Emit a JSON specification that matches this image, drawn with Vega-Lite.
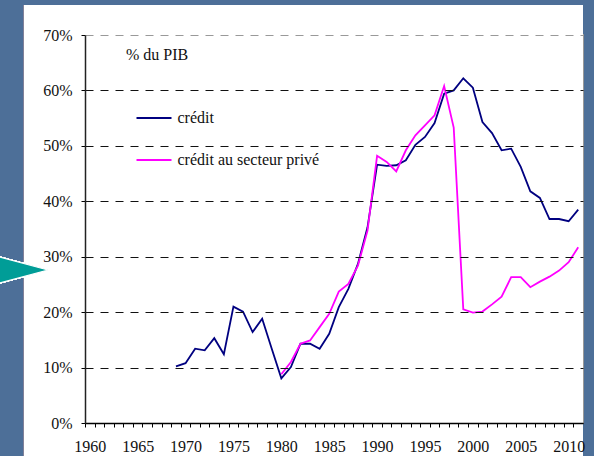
{
  "$schema": "https://vega.github.io/schema/vega-lite/v6.json",
  "autosize": "none",
  "width": 498,
  "height": 388,
  "padding": {"left": 85, "top": 35, "right": 11, "bottom": 33},
  "background": "#4d6f98",
  "config": {
    "font": "'Liberation Serif', 'Times New Roman', Times, serif",
    "view": {"stroke": "#999999", "strokeWidth": 2}
  },
  "title": {
    "text": "% du PIB",
    "anchor": "start",
    "frame": "group",
    "orient": "top",
    "offset": 0,
    "baseline": "middle",
    "dx": 41,
    "dy": 66,
    "fontSize": 16,
    "fontWeight": "normal",
    "color": "#111111",
    "font": "'Liberation Serif', 'Times New Roman', Times, serif"
  },
  "resolve": {"axis": {"x": "independent", "y": "independent"}},
  "data": {
    "values": [
      {"year": 1969, "series": "crédit", "value": 10.2},
      {"year": 1970, "series": "crédit", "value": 10.8},
      {"year": 1971, "series": "crédit", "value": 13.4},
      {"year": 1972, "series": "crédit", "value": 13.1},
      {"year": 1973, "series": "crédit", "value": 15.3},
      {"year": 1974, "series": "crédit", "value": 12.4},
      {"year": 1975, "series": "crédit", "value": 21.0},
      {"year": 1976, "series": "crédit", "value": 20.1},
      {"year": 1977, "series": "crédit", "value": 16.4},
      {"year": 1978, "series": "crédit", "value": 18.8},
      {"year": 1979, "series": "crédit", "value": 13.4},
      {"year": 1980, "series": "crédit", "value": 8.05},
      {"year": 1981, "series": "crédit", "value": 10.1},
      {"year": 1982, "series": "crédit", "value": 14.3},
      {"year": 1983, "series": "crédit", "value": 14.3},
      {"year": 1984, "series": "crédit", "value": 13.4},
      {"year": 1985, "series": "crédit", "value": 16.1},
      {"year": 1986, "series": "crédit", "value": 20.9},
      {"year": 1987, "series": "crédit", "value": 24.2},
      {"year": 1988, "series": "crédit", "value": 28.7},
      {"year": 1989, "series": "crédit", "value": 35.3},
      {"year": 1990, "series": "crédit", "value": 46.6},
      {"year": 1991, "series": "crédit", "value": 46.4},
      {"year": 1992, "series": "crédit", "value": 46.5},
      {"year": 1993, "series": "crédit", "value": 47.4},
      {"year": 1994, "series": "crédit", "value": 50.2},
      {"year": 1995, "series": "crédit", "value": 51.6},
      {"year": 1996, "series": "crédit", "value": 54.1},
      {"year": 1997, "series": "crédit", "value": 59.4},
      {"year": 1998, "series": "crédit", "value": 60.0},
      {"year": 1999, "series": "crédit", "value": 62.2},
      {"year": 2000, "series": "crédit", "value": 60.5},
      {"year": 2001, "series": "crédit", "value": 54.3},
      {"year": 2002, "series": "crédit", "value": 52.3},
      {"year": 2003, "series": "crédit", "value": 49.2},
      {"year": 2004, "series": "crédit", "value": 49.5},
      {"year": 2005, "series": "crédit", "value": 46.2},
      {"year": 2006, "series": "crédit", "value": 41.8},
      {"year": 2007, "series": "crédit", "value": 40.6},
      {"year": 2008, "series": "crédit", "value": 36.8},
      {"year": 2009, "series": "crédit", "value": 36.8},
      {"year": 2010, "series": "crédit", "value": 36.4},
      {"year": 2011, "series": "crédit", "value": 38.5},
      {"year": 1980, "series": "crédit au secteur privé", "value": 8.8},
      {"year": 1981, "series": "crédit au secteur privé", "value": 11.0},
      {"year": 1982, "series": "crédit au secteur privé", "value": 14.3},
      {"year": 1983, "series": "crédit au secteur privé", "value": 14.9},
      {"year": 1984, "series": "crédit au secteur privé", "value": 17.3},
      {"year": 1985, "series": "crédit au secteur privé", "value": 19.7},
      {"year": 1986, "series": "crédit au secteur privé", "value": 23.7},
      {"year": 1987, "series": "crédit au secteur privé", "value": 25.1},
      {"year": 1988, "series": "crédit au secteur privé", "value": 28.4},
      {"year": 1989, "series": "crédit au secteur privé", "value": 34.7},
      {"year": 1990, "series": "crédit au secteur privé", "value": 48.2},
      {"year": 1991, "series": "crédit au secteur privé", "value": 47.1},
      {"year": 1992, "series": "crédit au secteur privé", "value": 45.4},
      {"year": 1993, "series": "crédit au secteur privé", "value": 49.2},
      {"year": 1994, "series": "crédit au secteur privé", "value": 51.9},
      {"year": 1995, "series": "crédit au secteur privé", "value": 53.7},
      {"year": 1996, "series": "crédit au secteur privé", "value": 55.5},
      {"year": 1997, "series": "crédit au secteur privé", "value": 60.8},
      {"year": 1998, "series": "crédit au secteur privé", "value": 53.3},
      {"year": 1999, "series": "crédit au secteur privé", "value": 20.5},
      {"year": 2000, "series": "crédit au secteur privé", "value": 19.9},
      {"year": 2001, "series": "crédit au secteur privé", "value": 20.1},
      {"year": 2002, "series": "crédit au secteur privé", "value": 21.4},
      {"year": 2003, "series": "crédit au secteur privé", "value": 22.8},
      {"year": 2004, "series": "crédit au secteur privé", "value": 26.3},
      {"year": 2005, "series": "crédit au secteur privé", "value": 26.3},
      {"year": 2006, "series": "crédit au secteur privé", "value": 24.5},
      {"year": 2007, "series": "crédit au secteur privé", "value": 25.5},
      {"year": 2008, "series": "crédit au secteur privé", "value": 26.4},
      {"year": 2009, "series": "crédit au secteur privé", "value": 27.5},
      {"year": 2010, "series": "crédit au secteur privé", "value": 29.0},
      {"year": 2011, "series": "crédit au secteur privé", "value": 31.7}
    ]
  },
  "layer": [
    {
      "mark": {"type": "rect", "color": "#ffffff", "clip": false},
      "encoding": {
        "x": {"datum": 1953.13, "type": "quantitative", "axis": null},
        "x2": {"datum": 2011.5},
        "y": {"datum": 75.41, "type": "quantitative", "axis": null},
        "y2": {"datum": -8.5}
      }
    },
    {
      "mark": {
        "type": "point",
        "shape": "M1,0L-1,-0.54L-1,0.54Z",
        "filled": true,
        "fill": "#009d97",
        "stroke": "#ffffff",
        "strokeWidth": 1.2,
        "opacity": 1,
        "size": 3364,
        "clip": false
      },
      "encoding": {
        "x": {"datum": 1952.61, "type": "quantitative", "axis": null},
        "y": {"datum": 27.6, "type": "quantitative", "axis": null}
      }
    },
    {
      "mark": {"type": "line", "strokeWidth": 1.8, "clip": true},
      "encoding": {
        "x": {
          "field": "year",
          "type": "quantitative",
          "scale": {"domain": [1959.5, 2011.5], "nice": false, "zero": false},
          "axis": {
            "title": null,
            "values": [1960,1961,1962,1963,1964,1965,1966,1967,1968,1969,1970,1971,1972,1973,1974,1975,1976,1977,1978,1979,1980,1981,1982,1983,1984,1985,1986,1987,1988,1989,1990,1991,1992,1993,1994,1995,1996,1997,1998,1999,2000,2001,2002,2003,2004,2005,2006,2007,2008,2009,2010,2011,2012],
            "labelExpr": "datum.value % 5 === 0 && datum.value <= 2010 ? '' + datum.value : ''",
            "tickOffset": -4.79,
            "labelOffset": 4.79,
            "ticks": true,
            "tickSize": 4,
            "tickColor": "#000000",
            "tickWidth": 1,
            "domainColor": "#000000",
            "domainWidth": 1.5,
            "labelFontSize": 16,
            "labelFont": "'Liberation Serif', 'Times New Roman', Times, serif",
            "labelColor": "#111111",
            "labelPadding": 11,
            "labelOverlap": false,
            "labelFlush": false,
            "labelBound": false,
            "grid": false,
            "zindex": 1
          }
        },
        "y": {
          "field": "value",
          "type": "quantitative",
          "scale": {"domain": [0, 70], "nice": false},
          "axis": {
            "title": null,
            "values": [0, 10, 20, 30, 40, 50, 60, 70],
            "labelExpr": "datum.value + '%'",
            "tickSize": 4,
            "tickColor": "#000000",
            "domainColor": "#222222",
            "domainWidth": 1.5,
            "labelFontSize": 16,
            "labelFont": "'Liberation Serif', 'Times New Roman', Times, serif",
            "labelColor": "#111111",
            "labelPadding": 9,
            "grid": true,
            "gridColor": {"condition": {"test": "datum.value === 70", "value": "#999999"}, "value": "#111111"},
            "gridDash": [8, 7],
            "gridWidth": 1,
            "zindex": 1
          }
        },
        "color": {
          "field": "series",
          "type": "nominal",
          "scale": {"domain": ["crédit", "crédit au secteur privé"], "range": ["#000080", "#ff00ff"]},
          "legend": {
            "title": null,
            "orient": "none",
            "legendX": 20,
            "legendY": 69,
            "direction": "vertical",
            "fillColor": "#ffffff",
            "padding": 6,
            "symbolType": "M-3.5,0H3.5",
            "symbolSize": 100,
            "symbolStrokeWidth": 2,
            "symbolOffset": 35,
            "labelOffset": 15.5,
            "labelFontSize": 16,
            "labelFont": "'Liberation Serif', 'Times New Roman', Times, serif",
            "labelColor": "#111111",
            "labelLimit": 400,
            "rowPadding": 26
          }
        }
      }
    }
  ]
}
